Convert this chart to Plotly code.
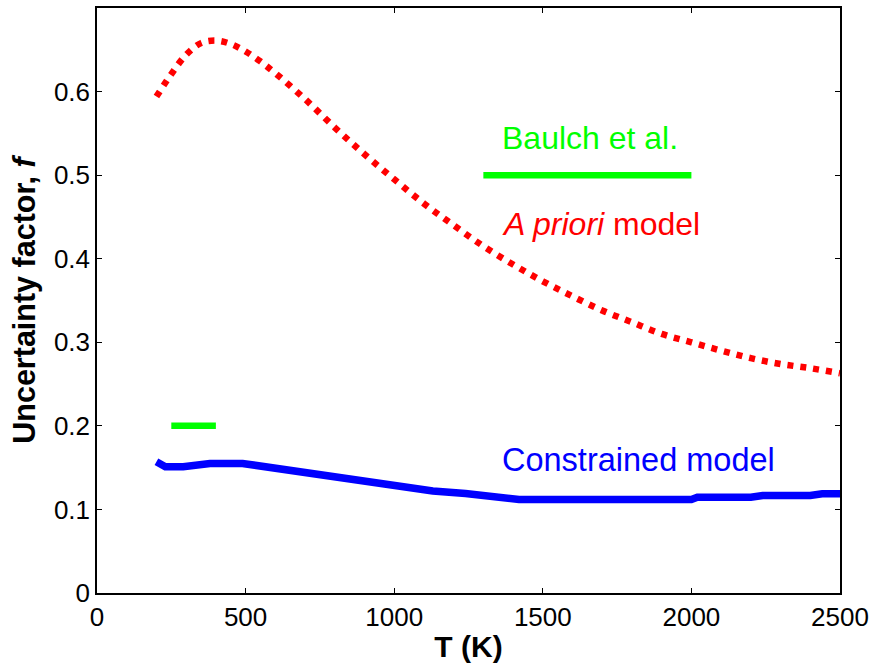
import plotly.graph_objects as go

# A priori model (red dotted)
T_apriori = [200, 250, 300, 350, 400, 450, 500, 550, 600, 700, 800, 900, 1000, 1100, 1200,
             1300, 1400, 1500, 1600, 1700, 1800, 1900, 2000, 2100, 2200, 2300, 2400, 2500]
f_apriori = [0.594, 0.621, 0.644, 0.658, 0.661, 0.657, 0.648, 0.636, 0.622, 0.591, 0.557, 0.525,
             0.495, 0.466, 0.440, 0.415, 0.393, 0.373, 0.355, 0.338, 0.324, 0.310, 0.300, 0.290,
             0.281, 0.274, 0.269, 0.263]

# Constrained model (blue solid)
T_constr = [200, 230, 290, 330, 380, 490, 530, 590, 640, 700, 800, 870, 960, 1040, 1130, 1240,
            1350, 1420, 2000, 2020, 2200, 2240, 2400, 2440, 2500]
f_constr = [0.157, 0.151, 0.151, 0.153, 0.155, 0.155, 0.153, 0.150, 0.147, 0.144, 0.139, 0.135,
            0.131, 0.127, 0.122, 0.119, 0.1155, 0.112, 0.112, 0.1146, 0.1146, 0.1167, 0.1167,
            0.1187, 0.1187]

# Baulch et al. recommendations (green bars)
T_baulch_hi = [1300, 2000]
f_baulch_hi = [0.5, 0.5]
T_baulch_lo = [250, 400]
f_baulch_lo = [0.2, 0.2]

x_ticks = [0, 500, 1000, 1500, 2000, 2500]
y_ticks = [0, 0.1, 0.2, 0.3, 0.4, 0.5, 0.6]

FONT = "Arial, Liberation Sans, sans-serif"

fig = go.Figure()
fig.add_trace(go.Scatter(x=T_apriori, y=f_apriori, mode="lines",
                         line=dict(color="#ff0000", width=6.5, dash="6px,7px", shape="spline"),
                         showlegend=False))
fig.add_trace(go.Scatter(x=T_constr, y=f_constr, mode="lines",
                         line=dict(color="#0000ff", width=7.5), showlegend=False))
fig.add_trace(go.Scatter(x=T_baulch_hi, y=f_baulch_hi, mode="lines",
                         line=dict(color="#00ff00", width=6.5), showlegend=False))
fig.add_trace(go.Scatter(x=T_baulch_lo, y=f_baulch_lo, mode="lines",
                         line=dict(color="#00ff00", width=6.5), showlegend=False))

fig.add_annotation(x=1355, y=0.544, xref="x", yref="y", xanchor="left", yanchor="middle",
                   text="Baulch et al.", showarrow=False,
                   font=dict(family=FONT, size=32, color="#00ff00"))
fig.add_annotation(x=1355, y=0.441, xref="x", yref="y", xanchor="left", yanchor="middle",
                   text="<i>A priori</i> model", showarrow=False,
                   font=dict(family=FONT, size=32, color="#ff0000"))
fig.add_annotation(x=1355, y=0.159, xref="x", yref="y", xanchor="left", yanchor="middle",
                   text="Constrained model", showarrow=False,
                   font=dict(family=FONT, size=32.5, color="#0000ff"))

axis_common = dict(showline=True, linecolor="black", linewidth=1.5, mirror="ticks",
                   ticks="inside", ticklen=5, tickwidth=1, tickcolor="black",
                   showgrid=False, zeroline=False,
                   tickfont=dict(family=FONT, size=26, color="black"))

fig.update_xaxes(range=[0, 2500], tickvals=x_ticks, ticktext=[str(v) for v in x_ticks],
                 title=dict(text="<b>T (K)</b>", font=dict(family=FONT, size=30, color="black"),
                            standoff=5),
                 **axis_common)
fig.update_yaxes(range=[0, 0.7], tickvals=y_ticks, ticktext=[f"{v:g}" for v in y_ticks],
                 title=dict(text="<b>Uncertainty factor, <i>f</i></b>",
                            font=dict(family=FONT, size=30.5, color="black"), standoff=9),
                 **axis_common)

fig.update_layout(width=875, height=668, margin=dict(l=97, r=33, t=6, b=75),
                  paper_bgcolor="white", plot_bgcolor="white")

fig.write_html("out.html")
